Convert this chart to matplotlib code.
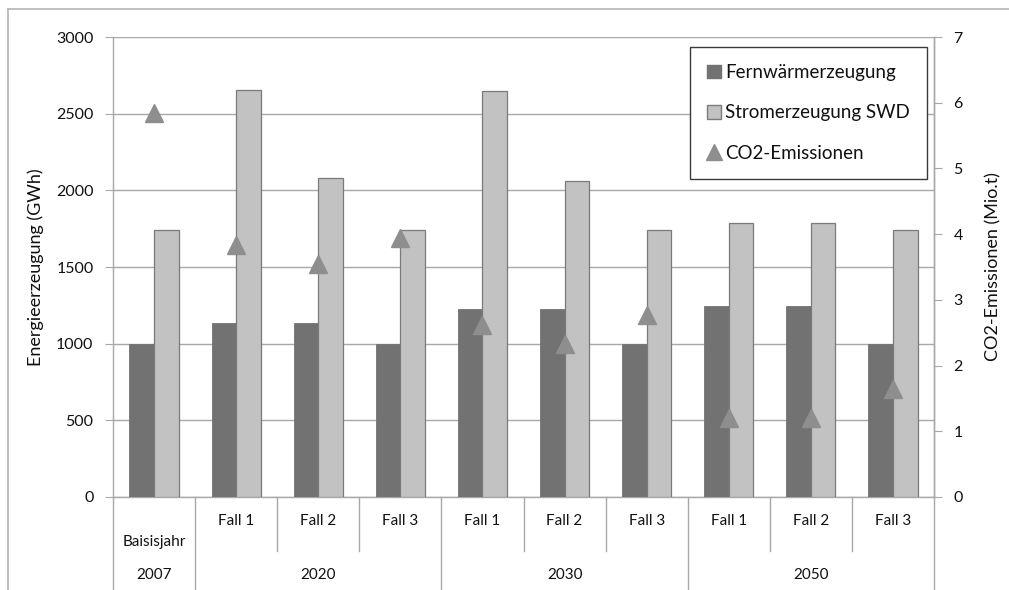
import matplotlib
matplotlib.use("Agg")
import matplotlib.pyplot as plt
from matplotlib.patches import Patch
from matplotlib.lines import Line2D
import numpy as np

plt.rcParams['font.family'] = ['Lato', 'DejaVu Sans']

# ---- data ----
fall_labels = ["Baisisjahr", "Fall 1", "Fall 2", "Fall 3", "Fall 1", "Fall 2", "Fall 3", "Fall 1", "Fall 2", "Fall 3"]
year_labels = ["2007", "2020", "2030", "2050"]
year_spans = [(0, 0), (1, 3), (4, 6), (7, 9)]
fernwaerme = [1000, 1135, 1135, 1000, 1225, 1225, 1000, 1245, 1245, 1000]
strom_swd = [1740, 2655, 2080, 1740, 2650, 2060, 1740, 1785, 1785, 1740]
co2 = [5.84, 3.83, 3.55, 3.94, 2.61, 2.33, 2.77, 1.20, 1.20, 1.64]

# ---- style ----
dark = "#727272"
light = "#c2c2c2"
edge = "#7a7a7a"
tri = "#8e8e8e"
grid = "#a8a8a8"
txt = "#111111"
W, H = 1009, 590

fig = plt.figure(figsize=(W / 100, H / 100), dpi=100)
ax = fig.add_axes([113 / W, 1 - 497 / H, (934 - 113) / W, (497 - 37) / H])
ax2 = ax.twinx()

x = np.arange(len(fall_labels))
bw = 0.3
ax.bar(x - bw / 2, fernwaerme, width=bw, color=dark, edgecolor=dark, linewidth=0.6, zorder=3)
ax.bar(x + bw / 2, strom_swd, width=bw, color=light, edgecolor=edge, linewidth=0.9, zorder=3)
ax.set_xlim(-0.5, len(fall_labels) - 0.5)
ax.set_ylim(0, 3000)
ax.set_yticks(np.arange(0, 3001, 500))
ax.yaxis.grid(True, color=grid, linewidth=1.0, zorder=0)
ax.set_axisbelow(True)
ax.set_xticks([])

ax2.plot(x, co2, linestyle='none', marker='^', markersize=13, color=tri,
         markeredgecolor=tri, zorder=5)
ax2.set_ylim(0, 7)
ax2.set_yticks(np.arange(0, 8, 1))

for a in (ax, ax2):
    a.spines['top'].set_visible(False)
    for s in ('left', 'right', 'bottom'):
        a.spines[s].set_color(grid)
        a.spines[s].set_linewidth(1.0)
ax2.spines['left'].set_visible(False)
ax2.spines['bottom'].set_visible(False)

ax.tick_params(axis='y', direction='out', length=6, color=grid, labelsize=11.5,
               pad=8, labelcolor=txt)
ax2.tick_params(axis='y', direction='out', length=6, color=grid, labelsize=11.5,
                pad=8, labelcolor=txt)

ax.set_ylabel("Energieerzeugung (GWh)", fontsize=13, color=txt, labelpad=9)
ax2.set_ylabel("CO2-Emissionen (Mio.t)", fontsize=13, color=txt, labelpad=16)

# ---- category axis (two levels) ----
tr = ax.get_xaxis_transform()
ph = 497 - 37
def yf(py):
    return (497 - py) / ph

for i, lab in enumerate(fall_labels):
    yy = yf(542) if lab == "Baisisjahr" else yf(521)
    ax.text(i, yy, lab, transform=tr, ha='center', va='center', fontsize=11,
            color=txt, clip_on=False)

group_bounds = set()
for (a0, a1) in year_spans:
    group_bounds.add(a0 - 0.5)
    group_bounds.add(a1 + 0.5)
for b in np.arange(-0.5, len(fall_labels), 1.0):
    y_end = yf(592) if b in group_bounds else yf(551)
    ax.plot([b, b], [0, y_end], transform=tr, color=grid, linewidth=1.0, clip_on=False)

for lab, (a0, a1) in zip(year_labels, year_spans):
    ax.text((a0 + a1) / 2, yf(575), lab, transform=tr, ha='center', va='center',
            fontsize=11, color=txt, clip_on=False)

# ---- legend ----
handles = [
    Patch(facecolor=dark, edgecolor=dark),
    Patch(facecolor=light, edgecolor=edge),
    Line2D([], [], linestyle='none', marker='^', markersize=11, color=tri),
]
labels = ["Fernwärmerzeugung", "Stromerzeugung SWD", "CO2-Emissionen"]
leg = ax2.legend(handles, labels, loc='upper right', bbox_to_anchor=(0.9915, 0.978),
                 fontsize=13.5, frameon=True, fancybox=False, framealpha=1,
                 edgecolor='#3a3a3a', handlelength=0.75, handleheight=0.75,
                 handletextpad=0.25, labelspacing=1.25, borderpad=0.9,
                 borderaxespad=0)
leg.get_frame().set_linewidth(1.0)
for t in leg.get_texts():
    t.set_color(txt)

# ---- outer chart frame ----
fig.add_artist(Line2D([8 / W, 8 / W], [0, 1 - 9 / H], transform=fig.transFigure,
                      color='#b4b4b4', linewidth=1.2))
fig.add_artist(Line2D([8 / W, 1], [1 - 9 / H, 1 - 9 / H], transform=fig.transFigure,
                      color='#b4b4b4', linewidth=1.2))

fig.savefig("out.png", dpi=100)
